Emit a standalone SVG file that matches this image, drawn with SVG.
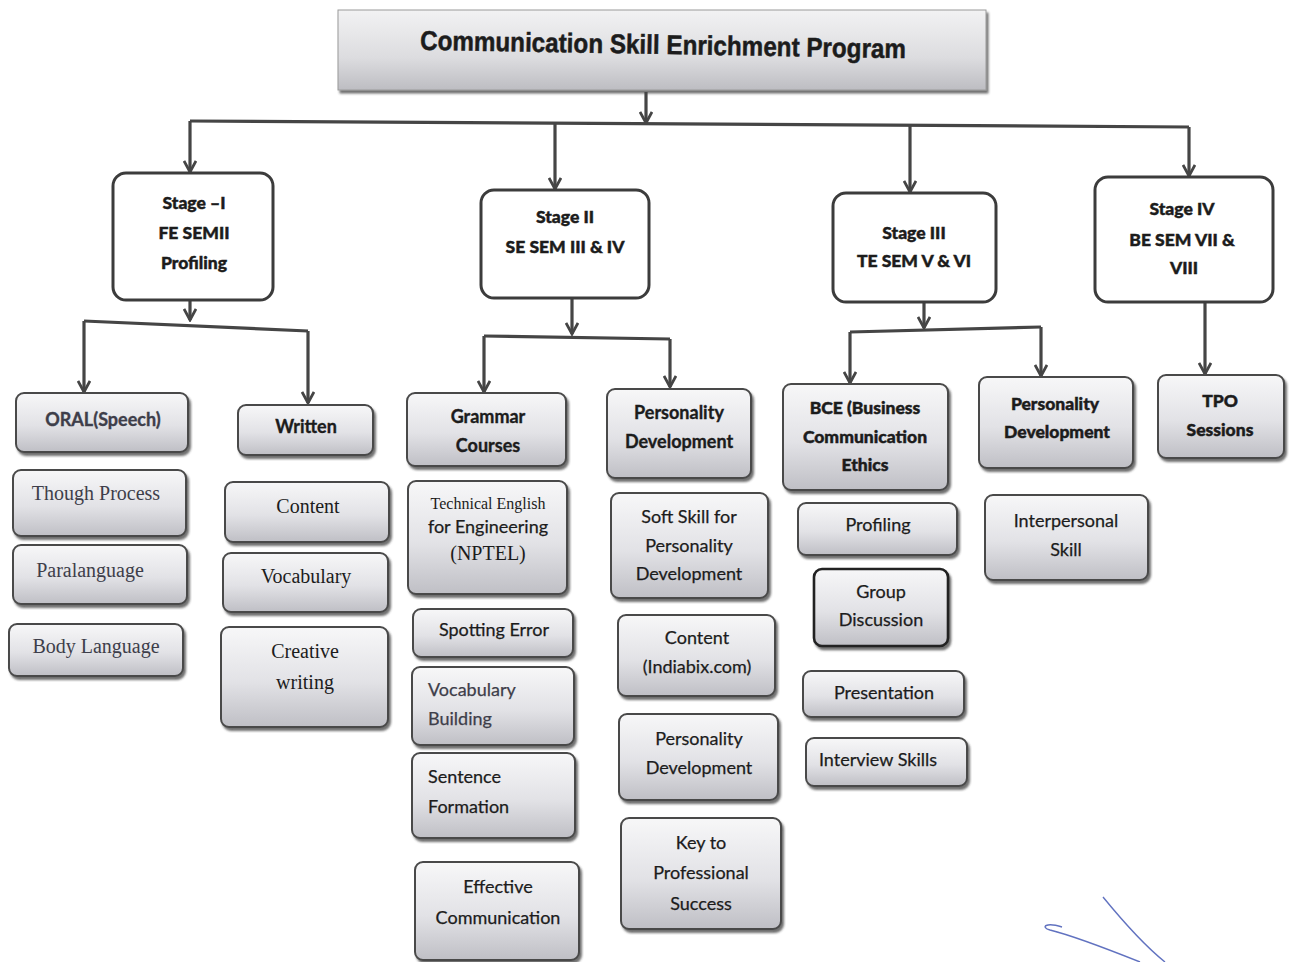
<svg xmlns="http://www.w3.org/2000/svg" width="1290" height="962" viewBox="0 0 1290 962">
<defs>
<linearGradient id="g" x1="0" y1="0" x2="0" y2="1">
<stop offset="0" stop-color="#f7f7f8"/>
<stop offset="0.55" stop-color="#e2e2e6"/>
<stop offset="1" stop-color="#bfbfc5"/>
</linearGradient>
<linearGradient id="gt" x1="0" y1="0" x2="0" y2="1">
<stop offset="0" stop-color="#f2f2f3"/>
<stop offset="0.6" stop-color="#dcdcdf"/>
<stop offset="1" stop-color="#bdbdc2"/>
</linearGradient>
<filter id="sh" x="-10%" y="-10%" width="125%" height="130%">
<feDropShadow dx="2" dy="3" stdDeviation="1.2" flood-color="#333" flood-opacity="0.7"/>
</filter>
<marker id="arr" markerUnits="userSpaceOnUse" viewBox="0 0 14 14" refX="12" refY="7" markerWidth="14" markerHeight="14" orient="auto">
<path d="M1,1 L12,7 L1,13" fill="none" stroke="#454545" stroke-width="2.8" stroke-linejoin="miter"/>
</marker>
<style>
.stage{fill:#fff;stroke:#3c3c3c;stroke-width:3}
.leaf{fill:url(#g);stroke:#4a4a4a;stroke-width:2;filter:url(#sh)}
.ln{fill:none;stroke:#454545;stroke-width:3.2}
.ar{marker-end:url(#arr)}
text{text-anchor:middle;fill:#1c1c1c}
.b{font-family:Lato,"Open Sans",sans-serif;font-weight:900;font-size:17.5px;stroke:#1c1c1c;stroke-width:0.45px}
.s{font-family:Lato,"Open Sans",sans-serif;font-size:18px;stroke:#1c1c1c;stroke-width:0.25px}
.sb{font-family:Lato,"Open Sans",sans-serif;font-weight:bold;font-size:18px;stroke:#1c1c1c;stroke-width:0.35px}
.r{font-family:"Liberation Serif","Times New Roman",serif;font-size:20px}
.gr{fill:#3e3e4a;stroke:#3e3e4a}
.r.gr{stroke:none}
.l{text-anchor:start}
</style>
</defs>
<rect width="1290" height="962" fill="#fff"/>

<g id="title">
<rect x="338" y="10" width="648" height="80" fill="url(#gt)" stroke="#9a9a9a" stroke-width="1" filter="url(#sh)"/>
<text x="663" y="54" transform="rotate(1 663 47)" font-family="Liberation Sans, Arial, sans-serif" font-weight="bold" font-size="27" stroke="#1c1c1c" stroke-width="0.5" textLength="486" lengthAdjust="spacingAndGlyphs">Communication Skill Enrichment Program</text>
</g>

<g id="connectors">
<path class="ln ar" d="M646,92 V123"/>
<path class="ln" d="M190,121 L1189,127"/>
<path class="ln ar" d="M190,121 V172"/>
<path class="ln ar" d="M555,124 V189"/>
<path class="ln ar" d="M910,126 V192"/>
<path class="ln ar" d="M1189,127 V176"/>

<path class="ln ar" d="M190,300 V320"/>
<path class="ln" d="M84,321 L308,331"/>
<path class="ln ar" d="M84,321 V392"/>
<path class="ln ar" d="M308,331 V403"/>

<path class="ln ar" d="M572,298 V334"/>
<path class="ln" d="M484,336 L670,339"/>
<path class="ln ar" d="M484,336 V392"/>
<path class="ln ar" d="M670,339 V387"/>

<path class="ln ar" d="M924,302 V328"/>
<path class="ln" d="M850,332 L1041,327"/>
<path class="ln ar" d="M850,332 V383"/>
<path class="ln ar" d="M1041,327 V376"/>

<path class="ln ar" d="M1205,302 V374"/>
</g>

<g id="stage1">
<rect class="stage" x="113" y="173" width="160" height="127" rx="13"/>
<text class="b" x="194" y="209">Stage –I</text>
<text class="b" x="194" y="239">FE SEMII</text>
<text class="b" x="194" y="269">Profiling</text>
</g>
<g id="stage2">
<rect class="stage" x="481" y="190" width="168" height="108" rx="13"/>
<text class="b" x="565" y="223">Stage II</text>
<text class="b" x="565" y="253">SE SEM III &amp; IV</text>
</g>
<g id="stage3">
<rect class="stage" x="833" y="193" width="163" height="109" rx="13"/>
<text class="b" x="914" y="239">Stage III</text>
<text class="b" x="914" y="267">TE SEM V &amp; VI</text>
</g>
<g id="stage4">
<rect class="stage" x="1095" y="177" width="178" height="125" rx="13"/>
<text class="b" x="1182" y="215">Stage IV</text>
<text class="b" x="1182" y="246">BE SEM VII &amp;</text>
<text class="b" x="1184" y="274">VIII</text>
</g>

<g id="oral">
<rect class="leaf" x="16" y="393" width="172" height="59" rx="8"/>
<text class="sb gr" x="103" y="426">ORAL(Speech)</text>
</g>
<g id="thought">
<rect class="leaf" x="13" y="470" width="173" height="66" rx="8"/>
<text class="r gr" x="96" y="500">Though Process</text>
</g>
<g id="para">
<rect class="leaf" x="13" y="545" width="174" height="59" rx="8"/>
<text class="r gr" x="90" y="577">Paralanguage</text>
</g>
<g id="body">
<rect class="leaf" x="9" y="624" width="174" height="52" rx="8"/>
<text class="r gr" x="96" y="653">Body Language</text>
</g>

<g id="written">
<rect class="leaf" x="238" y="405" width="135" height="50" rx="8"/>
<text class="sb" x="306" y="433">Written</text>
</g>
<g id="content1">
<rect class="leaf" x="225" y="482" width="164" height="60" rx="8"/>
<text class="r" x="308" y="513">Content</text>
</g>
<g id="vocab1">
<rect class="leaf" x="223" y="553" width="165" height="59" rx="8"/>
<text class="r" x="306" y="583">Vocabulary</text>
</g>
<g id="creative">
<rect class="leaf" x="221" y="627" width="167" height="100" rx="8"/>
<text class="r" x="305" y="658">Creative</text>
<text class="r" x="305" y="689">writing</text>
</g>

<g id="grammar">
<rect class="leaf" x="407" y="393" width="159" height="73" rx="8"/>
<text class="sb" x="488" y="423">Grammar</text>
<text class="sb" x="488" y="452">Courses</text>
</g>
<g id="techeng">
<rect class="leaf" x="408" y="481" width="159" height="113" rx="8"/>
<text x="488" y="509" font-family="Liberation Serif, serif" font-size="16">Technical English</text>
<text class="s" x="488" y="533" font-size="20">for Engineering</text>
<text class="r" x="488" y="560">(NPTEL)</text>
</g>
<g id="spotting">
<rect class="leaf" x="413" y="609" width="160" height="48" rx="8"/>
<text class="s" x="494" y="636">Spotting Error</text>
</g>
<g id="vocabbuild">
<rect class="leaf" x="412" y="667" width="162" height="78" rx="8"/>
<text class="s l gr" x="428" y="696">Vocabulary</text>
<text class="s l gr" x="428" y="725">Building</text>
</g>
<g id="sentence">
<rect class="leaf" x="412" y="753" width="163" height="85" rx="8"/>
<text class="s l" x="428" y="783">Sentence</text>
<text class="s l" x="428" y="813">Formation</text>
</g>
<g id="effective">
<rect class="leaf" x="415" y="862" width="164" height="98" rx="8"/>
<text class="s" x="498" y="893">Effective</text>
<text class="s" x="498" y="924">Communication</text>
</g>

<g id="persdev2">
<rect class="leaf" x="607" y="389" width="144" height="89" rx="8"/>
<text class="sb" x="679" y="419">Personality</text>
<text class="sb" x="679" y="448">Development</text>
</g>
<g id="softskill">
<rect class="leaf" x="611" y="493" width="157" height="105" rx="8"/>
<text class="s" x="689" y="523">Soft Skill for</text>
<text class="s" x="689" y="552">Personality</text>
<text class="s" x="689" y="580">Development</text>
</g>
<g id="indiabix">
<rect class="leaf" x="618" y="615" width="157" height="81" rx="8"/>
<text class="s" x="697" y="644">Content</text>
<text class="s" x="697" y="673">(Indiabix.com)</text>
</g>
<g id="persdev2b">
<rect class="leaf" x="619" y="714" width="159" height="86" rx="8"/>
<text class="s" x="699" y="745">Personality</text>
<text class="s" x="699" y="774">Development</text>
</g>
<g id="keyto">
<rect class="leaf" x="621" y="818" width="160" height="111" rx="8"/>
<text class="s" x="701" y="849">Key to</text>
<text class="s" x="701" y="879">Professional</text>
<text class="s" x="701" y="910">Success</text>
</g>

<g id="bce">
<rect class="leaf" x="783" y="384" width="165" height="106" rx="8"/>
<text class="b" x="865" y="414">BCE (Business</text>
<text class="b" x="865" y="443">Communication</text>
<text class="b" x="865" y="471">Ethics</text>
</g>
<g id="profiling3">
<rect class="leaf" x="798" y="503" width="159" height="52" rx="8"/>
<text class="s" x="878" y="531">Profiling</text>
</g>
<g id="gd">
<rect class="leaf" x="814" y="569" width="134" height="77" rx="8" style="stroke:#222;stroke-width:2.6"/>
<text class="s" x="881" y="598">Group</text>
<text class="s" x="881" y="626">Discussion</text>
</g>
<g id="presentation">
<rect class="leaf" x="803" y="671" width="161" height="46" rx="8"/>
<text class="s" x="884" y="699">Presentation</text>
</g>
<g id="interview">
<rect class="leaf" x="806" y="738" width="161" height="48" rx="8"/>
<text class="s" x="878" y="766">Interview Skills</text>
</g>

<g id="persdev3">
<rect class="leaf" x="979" y="377" width="154" height="91" rx="8"/>
<text class="b" x="1055" y="410">Personality</text>
<text class="b" x="1057" y="438">Development</text>
</g>
<g id="interpersonal">
<rect class="leaf" x="985" y="495" width="163" height="85" rx="8"/>
<text class="s" x="1066" y="527">Interpersonal</text>
<text class="s" x="1066" y="556">Skill</text>
</g>

<g id="tpo">
<rect class="leaf" x="1158" y="375" width="126" height="83" rx="8"/>
<text class="b" x="1220" y="407">TPO</text>
<text class="b" x="1220" y="436">Sessions</text>
</g>

<path d="M1103,897 C1130,930 1150,950 1165,962 M1140,962 C1110,950 1070,935 1050,930 C1040,927 1046,922 1062,927" fill="none" stroke="#3a4fb0" stroke-width="1.4" opacity="0.8"/>
</svg>
